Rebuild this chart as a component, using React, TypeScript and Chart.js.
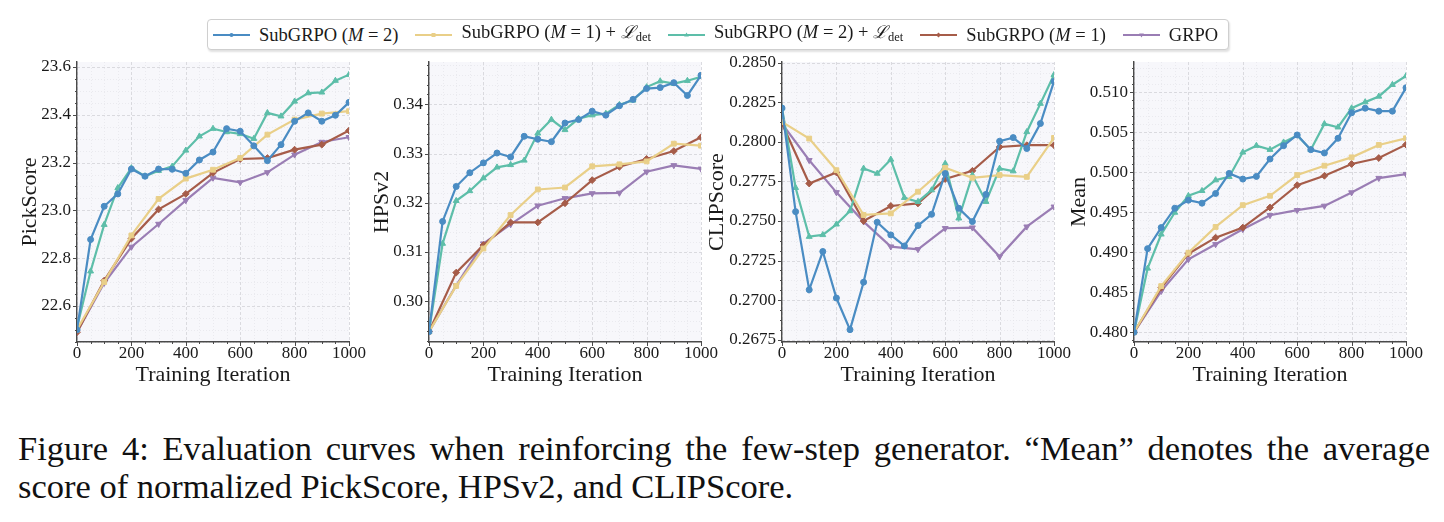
import React, { useEffect, useRef } from "react";
import { Chart, registerables } from "chart.js";

Chart.register(...registerables);

// ---- evaluation steps ----
const ITER_50 = [0, 50, 100, 150, 200, 250, 300, 350, 400, 450, 500, 550, 600, 650, 700, 750, 800, 850, 900, 950, 1000];
const ITER_100 = [0, 100, 200, 300, 400, 500, 600, 700, 800, 900, 1000];
const X_TICKS = [0, 200, 400, 600, 800, 1000];

// ---- PickScore ----
const PICK_SUB_M2 = [22.5, 22.878, 23.017, 23.069, 23.173, 23.143, 23.173, 23.172, 23.155, 23.211, 23.244, 23.342, 23.331, 23.27, 23.208, 23.275, 23.373, 23.408, 23.373, 23.398, 23.452];
const PICK_SUB_M1_DET = [22.5, 22.7, 22.895, 23.048, 23.133, 23.17, 23.219, 23.317, 23.38, 23.405, 23.415];
const PICK_SUB_M2_DET = [22.51, 22.745, 22.94, 23.094, 23.177, 23.143, 23.166, 23.184, 23.251, 23.31, 23.342, 23.328, 23.32, 23.3, 23.408, 23.394, 23.456, 23.491, 23.494, 23.543, 23.568];
const PICK_SUB_M1 = [22.49, 22.706, 22.882, 23.004, 23.069, 23.157, 23.215, 23.219, 23.254, 23.275, 23.334];
const PICK_GRPO = [22.49, 22.696, 22.847, 22.943, 23.042, 23.136, 23.117, 23.159, 23.233, 23.286, 23.306];
const PICK_TICKS = [22.6, 22.8, 23.0, 23.2, 23.4, 23.6];

// ---- HPSv2 ----
const HPS_SUB_M2 = [0.2938, 0.3162, 0.3233, 0.3261, 0.3281, 0.3301, 0.3293, 0.3335, 0.3329, 0.3324, 0.3362, 0.3369, 0.3386, 0.3378, 0.3397, 0.341, 0.3432, 0.3434, 0.3444, 0.3418, 0.3459];
const HPS_SUB_M1_DET = [0.2938, 0.3031, 0.3107, 0.3175, 0.3227, 0.3231, 0.3274, 0.3278, 0.3284, 0.332, 0.3316];
const HPS_SUB_M2_DET = [0.2938, 0.3117, 0.3204, 0.3224, 0.325, 0.3272, 0.3277, 0.3286, 0.3341, 0.3369, 0.3348, 0.3371, 0.3378, 0.3381, 0.3399, 0.3408, 0.3435, 0.3447, 0.3442, 0.3448, 0.3456];
const HPS_SUB_M1 = [0.2938, 0.3058, 0.3114, 0.316, 0.316, 0.3199, 0.3246, 0.3273, 0.3289, 0.3305, 0.3333];
const HPS_GRPO = [0.2938, 0.3032, 0.3117, 0.3156, 0.3194, 0.3209, 0.3219, 0.322, 0.3263, 0.3276, 0.3269];
const HPS_TICKS = [0.3, 0.31, 0.32, 0.33, 0.34];

// ---- CLIPScore ----
const CLIP_SUB_M2 = [0.28214, 0.27559, 0.27065, 0.27307, 0.27013, 0.26813, 0.27113, 0.27492, 0.27412, 0.27342, 0.27471, 0.27542, 0.278, 0.2758, 0.27496, 0.27668, 0.28004, 0.28027, 0.27958, 0.28116, 0.28382];
const CLIP_SUB_M1_DET = [0.28126, 0.28021, 0.27821, 0.27538, 0.27548, 0.27685, 0.27836, 0.27773, 0.2779, 0.27779, 0.28025];
const CLIP_SUB_M2_DET = [0.28214, 0.2771, 0.27401, 0.27412, 0.27479, 0.27563, 0.27832, 0.278, 0.27889, 0.27647, 0.27622, 0.27695, 0.27863, 0.27517, 0.2779, 0.27622, 0.27832, 0.27815, 0.28063, 0.28242, 0.28424];
const CLIP_SUB_M1 = [0.28116, 0.27737, 0.27807, 0.275, 0.27595, 0.27611, 0.27765, 0.27817, 0.27968, 0.27979, 0.27979];
const CLIP_GRPO = [0.28116, 0.27884, 0.27681, 0.27496, 0.27338, 0.27321, 0.27454, 0.27458, 0.27275, 0.27464, 0.2759];
const CLIP_TICKS = [0.2675, 0.27, 0.2725, 0.275, 0.2775, 0.28, 0.2825, 0.285];

// ---- Mean of normalized scores ----
const MEAN_SUB_M2 = [0.48, 0.49045, 0.49308, 0.4955, 0.4965, 0.49613, 0.49734, 0.49985, 0.49914, 0.49947, 0.50164, 0.50331, 0.50465, 0.50281, 0.5024, 0.50423, 0.50741, 0.50799, 0.50762, 0.50762, 0.51054];
const MEAN_SUB_M1_DET = [0.48, 0.48577, 0.48994, 0.49316, 0.49588, 0.49705, 0.49964, 0.50081, 0.50185, 0.5034, 0.50423];
const MEAN_SUB_M2_DET = [0.48, 0.48798, 0.49224, 0.49496, 0.49705, 0.49767, 0.49901, 0.49943, 0.50248, 0.50331, 0.50281, 0.50373, 0.50457, 0.50281, 0.50603, 0.50561, 0.50799, 0.50875, 0.50946, 0.51092, 0.51201];
const MEAN_SUB_M1 = [0.48, 0.48556, 0.48982, 0.49182, 0.49308, 0.49559, 0.49838, 0.49955, 0.50102, 0.50177, 0.50344];
const MEAN_GRPO = [0.48, 0.48514, 0.48911, 0.49099, 0.49287, 0.49462, 0.49525, 0.49579, 0.49746, 0.49926, 0.49976];
const MEAN_TICKS = [0.48, 0.485, 0.49, 0.495, 0.5, 0.505, 0.51];

// ---- methods (legend order) ----
const METHOD_NAMES = ["SubGRPO (M = 2)", "SubGRPO (M = 1) + ℒdet", "SubGRPO (M = 2) + ℒdet", "SubGRPO (M = 1)", "GRPO"];
const METHOD_M = [2, 1, 2, 1, null];
const METHOD_DET = [false, true, true, false, false];
const METHOD_COLORS = ["#4a8cc3", "#e9cf88", "#5dbea9", "#a65c49", "#9a7db4"];
const METHOD_MARKERS = ["circle", "rect", "triangle", "rectRot", "triangle"];
const METHOD_ROTATION = [0, 0, 0, 0, 180];
const METHOD_RADIUS = [3, 3.4, 3.4, 3.4, 3.4];
const METHOD_ITERS = [ITER_50, ITER_100, ITER_50, ITER_100, ITER_100];

const SERIF = "'Liberation Serif', 'Times New Roman', Times, serif";
const SPINE = "#4a4a4a";
const TEXT = "#1a1a1a";

type PanelCfg = {
  label: string;
  values: number[][];
  ticks: number[];
  decimals: number;
  min: number;
  max: number;
  minorDiv: number;
  plotLeft: number;
  titleOffset: number;
};

const PANELS: PanelCfg[] = [
  { label: "PickScore", values: [PICK_SUB_M2, PICK_SUB_M1_DET, PICK_SUB_M2_DET, PICK_SUB_M1, PICK_GRPO], ticks: PICK_TICKS, decimals: 1, min: 22.449, max: 23.621, minorDiv: 4, plotLeft: 77, titleOffset: 46.7 },
  { label: "HPSv2", values: [HPS_SUB_M2, HPS_SUB_M1_DET, HPS_SUB_M2_DET, HPS_SUB_M1, HPS_GRPO], ticks: HPS_TICKS, decimals: 2, min: 0.2917, max: 0.3486, minorDiv: 5, plotLeft: 429, titleOffset: 46.4 },
  { label: "CLIPScore", values: [CLIP_SUB_M2, CLIP_SUB_M1_DET, CLIP_SUB_M2_DET, CLIP_SUB_M1, CLIP_GRPO], ticks: CLIP_TICKS, decimals: 4, min: 0.26735, max: 0.28505, minorDiv: 4, plotLeft: 782, titleOffset: 64.4 },
  { label: "Mean", values: [MEAN_SUB_M2, MEAN_SUB_M1_DET, MEAN_SUB_M2_DET, MEAN_SUB_M1, MEAN_GRPO], ticks: MEAN_TICKS, decimals: 3, min: 0.47879, max: 0.51376, minorDiv: 5, plotLeft: 1134, titleOffset: 54.4 },
];

// geometry of each panel canvas
const AXIS_W = 80;
const PLOT_W = 272;
const PAD_RIGHT = 24;
const CANVAS_W = AXIS_W + PLOT_W + PAD_RIGHT;
const CANVAS_TOP = 55;
const CANVAS_H = 340;
const PLOT_TOP = 7;
const PLOT_H = 280;
const X_AXIS_H = CANVAS_H - PLOT_TOP - PLOT_H;
const BODY_MARGIN = 8;

function minorValues(majors: number[], div: number, lo: number, hi: number): number[] {
  const step = (majors[1] - majors[0]) / div;
  const out: number[] = [];
  const start = majors[0] - Math.floor((majors[0] - lo) / step) * step;
  for (let v = start; v <= hi + 1e-12; v += step) {
    const isMajor = majors.some((m) => Math.abs(m - v) < step * 1e-3);
    if (!isMajor && v >= lo - 1e-12) out.push(v);
  }
  return out;
}

function backdropPlugin(cfg: PanelCfg) {
  return {
    id: "panelBackdrop",
    beforeDraw(chart: any) {
      const { ctx, chartArea: a, scales } = chart;
      const xs = scales.x;
      const ys = scales.y;
      ctx.save();
      ctx.fillStyle = "#f7f7fb";
      ctx.fillRect(a.left, a.top, a.right - a.left, a.bottom - a.top);

      const vline = (px: number, y0: number, y1: number) => {
        ctx.beginPath();
        ctx.moveTo(px, y0);
        ctx.lineTo(px, y1);
        ctx.stroke();
      };
      const hline = (py: number, x0: number, x1: number) => {
        ctx.beginPath();
        ctx.moveTo(x0, py);
        ctx.lineTo(x1, py);
        ctx.stroke();
      };

      const xMinor = minorValues(X_TICKS, 4, 0, 1000);
      const yMinor = minorValues(cfg.ticks, cfg.minorDiv, cfg.min, cfg.max);

      // minor grid
      ctx.strokeStyle = "#e4e4ea";
      ctx.lineWidth = 0.7;
      ctx.setLineDash([1, 2]);
      xMinor.forEach((v) => vline(Math.round(xs.getPixelForValue(v)) + 0.5, a.top, a.bottom));
      yMinor.forEach((v) => hline(Math.round(ys.getPixelForValue(v)) + 0.5, a.left, a.right));

      // major grid
      ctx.strokeStyle = "#d2d2d8";
      ctx.lineWidth = 0.8;
      ctx.setLineDash([3, 2]);
      X_TICKS.forEach((v) => vline(Math.round(xs.getPixelForValue(v)) + 0.5, a.top, a.bottom));
      cfg.ticks.forEach((v) => hline(Math.round(ys.getPixelForValue(v)) + 0.5, a.left, a.right));

      // tick marks
      ctx.setLineDash([]);
      ctx.strokeStyle = SPINE;
      ctx.lineWidth = 1;
      X_TICKS.forEach((v) => vline(Math.round(xs.getPixelForValue(v)) + 0.5, a.bottom, a.bottom + 4));
      xMinor.forEach((v) => vline(Math.round(xs.getPixelForValue(v)) + 0.5, a.bottom, a.bottom + 2));
      cfg.ticks.forEach((v) => hline(Math.round(ys.getPixelForValue(v)) + 0.5, a.left - 4, a.left));
      yMinor.forEach((v) => hline(Math.round(ys.getPixelForValue(v)) + 0.5, a.left - 2, a.left));
      ctx.restore();
    },
  };
}

function Panel({ cfg }: { cfg: PanelCfg }) {
  const ref = useRef<HTMLCanvasElement>(null);
  useEffect(() => {
    const datasets = METHOD_NAMES.map((name, k) => ({
      label: name,
      data: METHOD_ITERS[k].map((x, i) => ({ x, y: cfg.values[k][i] })),
      borderColor: METHOD_COLORS[k],
      backgroundColor: METHOD_COLORS[k],
      pointBackgroundColor: METHOD_COLORS[k],
      pointBorderColor: METHOD_COLORS[k],
      pointBorderWidth: 1,
      pointStyle: METHOD_MARKERS[k],
      pointRotation: METHOD_ROTATION[k],
      pointRadius: METHOD_RADIUS[k],
      borderWidth: 2.2,
      tension: 0,
      fill: false,
    }));
    const tickFont = { family: SERIF, size: 17 };
    const titleFont = { family: SERIF, size: 22, lineHeight: 1.2 };
    const chart = new Chart(ref.current as HTMLCanvasElement, {
      type: "line",
      data: { datasets } as any,
      plugins: [backdropPlugin(cfg)],
      options: {
        animation: false,
        responsive: false,
        devicePixelRatio: 1,
        events: [],
        layout: { padding: { top: PLOT_TOP, right: PAD_RIGHT, left: 0, bottom: 0 } },
        plugins: { legend: { display: false }, tooltip: { enabled: false } },
        scales: {
          x: {
            type: "linear",
            min: 0,
            max: 1000,
            afterBuildTicks: (s: any) => {
              s.ticks = X_TICKS.map((v) => ({ value: v }));
            },
            afterFit: (s: any) => {
              s.height = X_AXIS_H;
              s.paddingLeft = 0;
              s.paddingRight = 0;
            },
            grid: { display: false, drawTicks: false },
            border: { display: true, color: SPINE, width: 1.4 },
            ticks: {
              font: tickFont,
              color: TEXT,
              padding: 1,
              maxRotation: 0,
              autoSkip: false,
              callback: (v: any) => String(v),
            },
            title: {
              display: true,
              text: "Training Iteration",
              font: titleFont,
              color: TEXT,
              padding: { top: 0, bottom: CANVAS_H - 320 - 13.2 },
            },
          },
          y: {
            type: "linear",
            min: cfg.min,
            max: cfg.max,
            afterBuildTicks: (s: any) => {
              s.ticks = cfg.ticks.map((v) => ({ value: v }));
            },
            afterFit: (s: any) => {
              s.width = AXIS_W;
              s.paddingTop = 0;
              s.paddingBottom = 0;
            },
            grid: { display: false, drawTicks: false },
            border: { display: true, color: SPINE, width: 1.4 },
            ticks: {
              font: tickFont,
              color: TEXT,
              padding: 6,
              autoSkip: false,
              callback: (v: any) => Number(v).toFixed(cfg.decimals),
            },
            title: {
              display: true,
              text: cfg.label,
              font: titleFont,
              color: TEXT,
              padding: { top: AXIS_W - cfg.titleOffset - 13.2, bottom: 0 },
            },
          },
        },
      } as any,
    });
    return () => chart.destroy();
  }, [cfg]);
  return (
    <canvas
      ref={ref}
      width={CANVAS_W}
      height={CANVAS_H}
      style={{
        position: "absolute",
        left: cfg.plotLeft - AXIS_W - BODY_MARGIN,
        top: CANVAS_TOP - BODY_MARGIN,
        width: CANVAS_W,
        height: CANVAS_H,
      }}
    />
  );
}

function Handle({ k }: { k: number }) {
  const c = METHOD_COLORS[k];
  const cx = 18.5;
  const cy = 5;
  let marker: React.ReactNode = null;
  if (METHOD_MARKERS[k] === "circle") marker = <circle cx={cx} cy={cy} r={2} fill={c} />;
  else if (METHOD_MARKERS[k] === "rect") marker = <rect x={cx - 2} y={cy - 2} width={4} height={4} fill={c} />;
  else if (METHOD_MARKERS[k] === "rectRot") marker = <polygon points={`${cx},${cy - 2.5} ${cx + 2.5},${cy} ${cx},${cy + 2.5} ${cx - 2.5},${cy}`} fill={c} />;
  else if (METHOD_ROTATION[k] === 180) marker = <polygon points={`${cx - 2.4},${cy - 1.6} ${cx + 2.4},${cy - 1.6} ${cx},${cy + 2.4}`} fill={c} />;
  else marker = <polygon points={`${cx - 2.4},${cy + 1.6} ${cx + 2.4},${cy + 1.6} ${cx},${cy - 2.4}`} fill={c} />;
  return (
    <svg width={37} height={10} style={{ display: "block" }}>
      <line x1={0} y1={cy} x2={37} y2={cy} stroke={c} strokeWidth={2} />
      {marker}
    </svg>
  );
}

function LegendLabel({ k }: { k: number }) {
  const m = METHOD_M[k];
  if (m === null) return <span>{METHOD_NAMES[k]}</span>;
  return (
    <span>
      SubGRPO (<i>M</i> = {m})
      {METHOD_DET[k] ? (
        <>
          {" + "}
          <span style={{ fontFamily: "'DejaVu Serif', serif", fontStyle: "italic", fontSize: 17.5 }}>ℒ</span>
          <sub style={{ fontSize: 12.5, verticalAlign: "-3px" }}>det</sub>
        </>
      ) : null}
    </span>
  );
}

function Legend() {
  return (
    <div
      style={{
        position: "absolute",
        left: 207 - BODY_MARGIN,
        top: 19 - BODY_MARGIN,
        height: 31,
        boxSizing: "border-box",
        border: "1px solid #cfcfcf",
        borderRadius: 4,
        background: "#fff",
        boxShadow: "1px 2px 2px rgba(0,0,0,0.12)",
        display: "flex",
        alignItems: "center",
        padding: "0 10px 0 5px",
        fontFamily: SERIF,
        fontSize: 18.5,
        color: TEXT,
        whiteSpace: "nowrap",
      }}
    >
      {METHOD_NAMES.map((_, k) => (
        <div key={k} style={{ display: "flex", alignItems: "center", marginLeft: k === 0 ? 0 : 17 }}>
          <Handle k={k} />
          <div style={{ marginLeft: 9, lineHeight: "20px" }}>
            <LegendLabel k={k} />
          </div>
        </div>
      ))}
    </div>
  );
}

function Caption() {
  const style: React.CSSProperties = {
    fontFamily: SERIF,
    fontSize: 34.5,
    lineHeight: "37.5px",
    color: "#111",
  };
  return (
    <div style={{ position: "absolute", left: 18 - BODY_MARGIN, top: 430 - BODY_MARGIN, width: 1412 }}>
      <div style={{ ...style, textAlign: "justify", textAlignLast: "justify", whiteSpace: "nowrap" as any }}>
        Figure 4: Evaluation curves when reinforcing the few-step generator. “Mean” denotes the average
      </div>
      <div style={style}>score of normalized PickScore, HPSv2, and CLIPScore.</div>
    </div>
  );
}

export default function App() {
  return (
    <div style={{ position: "relative", width: 1428, height: 506, background: "#fff" }}>
      {PANELS.map((p) => (
        <Panel key={p.label} cfg={p} />
      ))}
      <Legend />
      <Caption />
    </div>
  );
}
